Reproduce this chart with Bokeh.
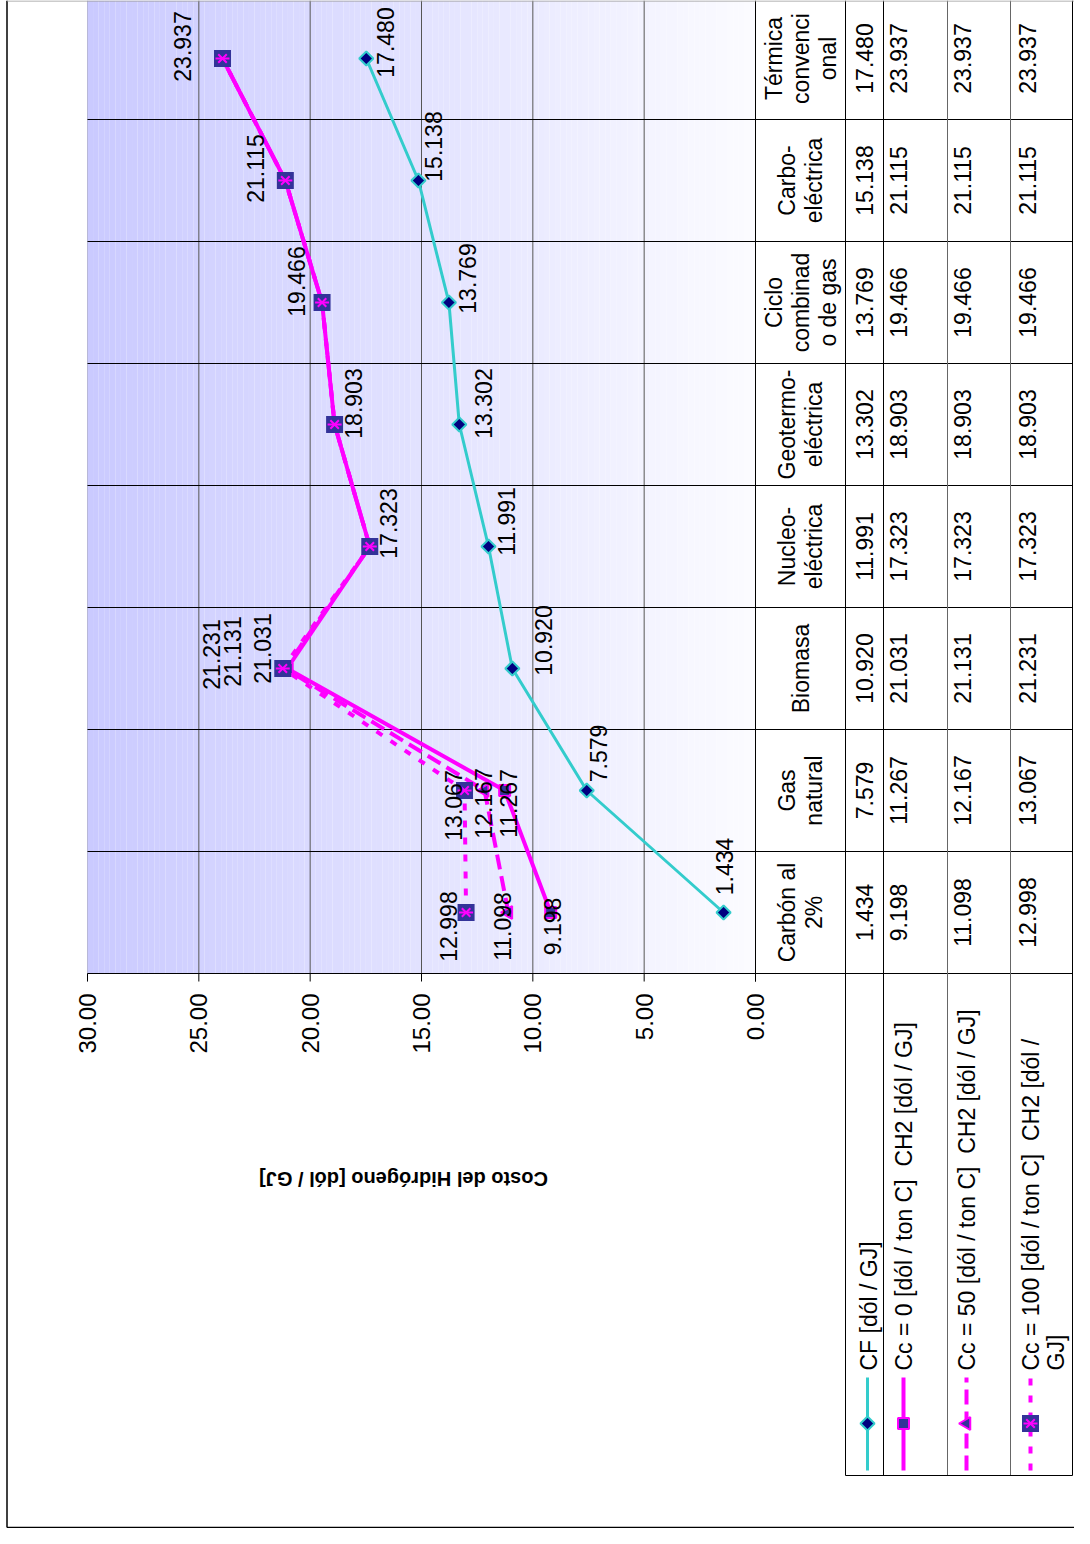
import numpy as np
from bokeh.plotting import figure
from bokeh.models import Range1d
from bokeh.embed import file_html
from bokeh.resources import INLINE
from bokeh.core.properties import value

# ---------------- data ----------------
categories = ["Carbón al 2%", "Gas natural", "Biomasa", "Nucleo-eléctrica",
              "Geotermo-eléctrica", "Ciclo combinado de gas", "Carbo-eléctrica",
              "Térmica convencional"]
header_lines = [["Carbón al", "2%"], ["Gas", "natural"], ["Biomasa"],
                ["Nucleo-", "eléctrica"], ["Geotermo-", "eléctrica"],
                ["Ciclo", "combinad", "o de gas"], ["Carbo-", "eléctrica"],
                ["Térmica", "convenci", "onal"]]
cf = [1.434, 7.579, 10.920, 11.991, 13.302, 13.769, 15.138, 17.480]
cc0 = [9.198, 11.267, 21.031, 17.323, 18.903, 19.466, 21.115, 23.937]
cc50 = [11.098, 12.167, 21.131, 17.323, 18.903, 19.466, 21.115, 23.937]
cc100 = [12.998, 13.067, 21.231, 17.323, 18.903, 19.466, 21.115, 23.937]
legend_lines = [["CF [dól / GJ]"],
                ["Cc = 0 [dól / ton C]\u00a0 CH2 [dól / GJ]"],
                ["Cc = 50 [dól / ton C]\u00a0 CH2 [dól / GJ]"],
                ["Cc = 100 [dól / ton C]\u00a0 CH2 [dól /", "GJ]"]]
ticks = [0, 5, 10, 15, 20, 25, 30]
tick_labels = ["0.00", "5.00", "10.00", "15.00", "20.00", "25.00", "30.00"]
axis_title = "Costo del Hidrógeno [dól / GJ]"

# ---------------- layout helpers (page pixels -> data) ----------------
PX0, PXU = 755.0, 668.0 / 30.0      # value 0 at x=755, px per unit
PY0, PYU = 912.0, 122.0             # first category at y=912, px per category
W, H = 1074, 1528
def X(px):
    return (PX0 - px) / PXU
def Y(py):
    return (PY0 - py) / PYU

FONT = value("Liberation Sans")
CYAN, MAG, NAVY, BLUE = "#33CCCC", "#FF00FF", "#000080", "#333399"
ks = list(range(len(categories)))

p = figure(width=W, height=H, x_range=Range1d(X(0), X(W)),
           y_range=Range1d(Y(H), Y(0)), toolbar_location=None,
           output_backend="svg", x_axis_location=None, y_axis_location=None,
           min_border=0, outline_line_color=None)
p.grid.visible = False
p.background_fill_color = "white"
p.border_fill_color = "white"

# plot-area gradient
n = 120
edges = np.linspace(30, 0, n + 1)
cols = []
for i in range(n):
    t = (i + 0.5) / n
    r = int(202 + (252 - 202) * t)
    cols.append("#%02x%02x%02x" % (r, r, 255))
p.quad(left=edges[:-1], right=edges[1:], bottom=Y(973), top=Y(0),
       fill_color=cols, line_color=None)

# value gridlines
p.segment(x0=ticks[1:-1], x1=ticks[1:-1], y0=[Y(973)] * 5, y1=[Y(0)] * 5,
          line_color="#555555", line_width=1)
p.segment(x0=[30], x1=[30], y0=[Y(981)], y1=[Y(0)], line_color="#b8b8d8", line_width=1)
# category boundaries (plot + table)
bounds = [k - 0.5 for k in ks]
p.segment(x0=[30] * 8, x1=[X(1072)] * 8, y0=bounds, y1=bounds,
          line_color="black", line_width=1)
# tick marks
p.segment(x0=ticks, x1=ticks, y0=[Y(973)] * 7, y1=[Y(981)] * 7,
          line_color="black", line_width=1)
# tick labels
p.text(x=ticks, y=[Y(993)] * 7, text=tick_labels, angle=np.pi / 2,
       text_align="right", text_baseline="middle", text_font=FONT,
       text_font_size="24px", text_color="black")
# axis title (upside down)
p.text(x=[X(403)], y=[Y(1178)], text=[axis_title], angle=np.pi,
       text_align="center", text_baseline="middle", text_font=FONT,
       text_font_size="20px", text_font_style="bold", text_color="black")

# table vertical lines
p.segment(x0=[X(755)], x1=[X(755)], y0=[Y(981)], y1=[Y(0)], line_color="black", line_width=1)
tx = [845, 883, 947, 1010, 1072]
tcol = ["black", "black", "#666666", "#666666", "black"]
p.segment(x0=[X(v) for v in tx], x1=[X(v) for v in tx], y0=[Y(1475)] * 5,
          y1=[Y(0)] * 5, line_color=tcol, line_width=1)
p.segment(x0=[X(845)], x1=[X(1072)], y0=[Y(1475)], y1=[Y(1475)],
          line_color="black", line_width=1)
# outer frame
p.segment(x0=[X(6.5), X(6.5)], x1=[X(6.5), X(W)], y0=[Y(0), Y(1527)],
          y1=[Y(1527), Y(1527)], line_color="black", line_width=1.5)
p.segment(x0=[X(6.5)], x1=[X(W)], y0=[Y(0.5)], y1=[Y(0.5)],
          line_color="#999999", line_width=1)

# ---------------- series ----------------
p.line(x=cf, y=ks, line_color=CYAN, line_width=3)
p.scatter(x=cf, y=ks, marker="square", angle=np.pi / 4, size=10,
          fill_color=NAVY, line_color=CYAN, line_width=2)
p.line(x=cc0, y=ks, line_color=MAG, line_width=4)
p.scatter(x=cc0, y=ks, marker="square", size=11, fill_color=BLUE,
          line_color=MAG, line_width=2)
p.line(x=cc50, y=ks, line_color=MAG, line_width=4, line_dash="15 7")
p.scatter(x=cc50, y=ks, marker="triangle", angle=np.pi / 2, size=13,
          fill_color=BLUE, line_color=MAG, line_width=2)
p.line(x=cc100, y=ks, line_color=MAG, line_width=4, line_dash="7 10")
p.scatter(x=cc100, y=ks, marker="square", size=17, fill_color=BLUE, line_color=None)
p.scatter(x=cc100, y=ks, marker="x", size=12, line_color=MAG, line_width=2)
p.scatter(x=cc100, y=ks, marker="dash", size=14, line_color=MAG, line_width=2)

# data labels (screen-pixel offsets from each point)
lab_dx = {"cf": [1, 12, 31, 18, 24, 19, 15, 19],
          "cc0": [2, 4, -25, 19, 19, -26, -30, -40],
          "cc50": [-6, -1, -52, 19, 19, -26, -30, -40],
          "cc100": [-18, -11, -71, 19, 19, -26, -30, -40]}
lab_dy = {"cf": [-46, -37, -28, -25, -21, -24, -34, -16],
          "cc0": [14, 13, -20, -23, -21, -21, -12, -12],
          "cc50": [14, 13, -17, -23, -21, -21, -12, -12],
          "cc100": [14, 15, -14, -23, -21, -21, -12, -12]}
seen = set()
lx_all, ly_all, lt_all = [], [], []
for key, vals in (("cf", cf), ("cc0", cc0), ("cc50", cc50), ("cc100", cc100)):
    for v, k, dx, dy in zip(vals, ks, lab_dx[key], lab_dy[key]):
        lab = "%.3f" % v
        sig = (lab, k, dx, dy)
        if sig in seen:
            continue
        seen.add(sig)
        lx_all.append(v - dx / PXU)
        ly_all.append(k - dy / PYU)
        lt_all.append(lab)
p.text(x=lx_all, y=ly_all, text=lt_all, angle=np.pi / 2,
       text_align="center", text_baseline="middle", text_font=FONT,
       text_font_size="23px", text_color="black")

# ---------------- data table ----------------
hx, hy, ht = [], [], []
for k, lines in zip(ks, header_lines):
    nl = len(lines)
    for i, s in enumerate(lines):
        hx.append(X(800 + (i - (nl - 1) / 2) * 27))
        hy.append(k)
        ht.append(s)
p.text(x=hx, y=hy, text=ht, angle=np.pi / 2, text_align="center",
       text_baseline="middle", text_font=FONT, text_font_size="23px",
       text_color="black")
val_x = [864, 898, 962, 1027]
for cx, vals in zip(val_x, (cf, cc0, cc50, cc100)):
    p.text(x=[X(cx)] * len(vals), y=ks, text=["%.3f" % v for v in vals],
           angle=np.pi / 2, text_align="center", text_baseline="middle",
           text_font=FONT, text_font_size="23px", text_color="black")

# ---------------- legend (rotated) ----------------
key_x = [867, 903, 966, 1030]
kx = [X(v) for v in key_x]
p.segment(x0=[kx[0]], x1=[kx[0]], y0=[Y(1470)], y1=[Y(1377)], line_color=CYAN, line_width=3)
p.segment(x0=[kx[1]], x1=[kx[1]], y0=[Y(1470)], y1=[Y(1377)], line_color=MAG, line_width=4)
p.segment(x0=[kx[2]], x1=[kx[2]], y0=[Y(1470)], y1=[Y(1377)], line_color=MAG, line_width=4, line_dash="15 7")
p.segment(x0=[kx[3]], x1=[kx[3]], y0=[Y(1470)], y1=[Y(1377)], line_color=MAG, line_width=4, line_dash="7 10")
ky = Y(1423)
p.scatter(x=[kx[0]], y=[ky], marker="square", angle=np.pi / 4, size=10,
          fill_color=NAVY, line_color=CYAN, line_width=2)
p.scatter(x=[kx[1]], y=[ky], marker="square", size=11, fill_color=BLUE,
          line_color=MAG, line_width=2)
p.scatter(x=[kx[2]], y=[ky], marker="triangle", angle=np.pi / 2, size=13,
          fill_color=BLUE, line_color=MAG, line_width=2)
p.scatter(x=[kx[3]], y=[ky], marker="square", size=17, fill_color=BLUE, line_color=None)
p.scatter(x=[kx[3]], y=[ky], marker="x", size=12, line_color=MAG, line_width=2)
p.scatter(x=[kx[3]], y=[ky], marker="dash", size=14, line_color=MAG, line_width=2)
leg_x = [[868], [903], [966], [1030, 1055]]
lx, lt = [], []
for xs, lines in zip(leg_x, legend_lines):
    for xv, s in zip(xs, lines):
        lx.append(X(xv))
        lt.append(s)
p.text(x=lx, y=[Y(1370)] * len(lx), text=lt, angle=np.pi / 2, text_align="left",
       text_baseline="middle", text_font=FONT, text_font_size="23px",
       text_color="black")

open("out.html", "w").write(file_html(p, INLINE))
